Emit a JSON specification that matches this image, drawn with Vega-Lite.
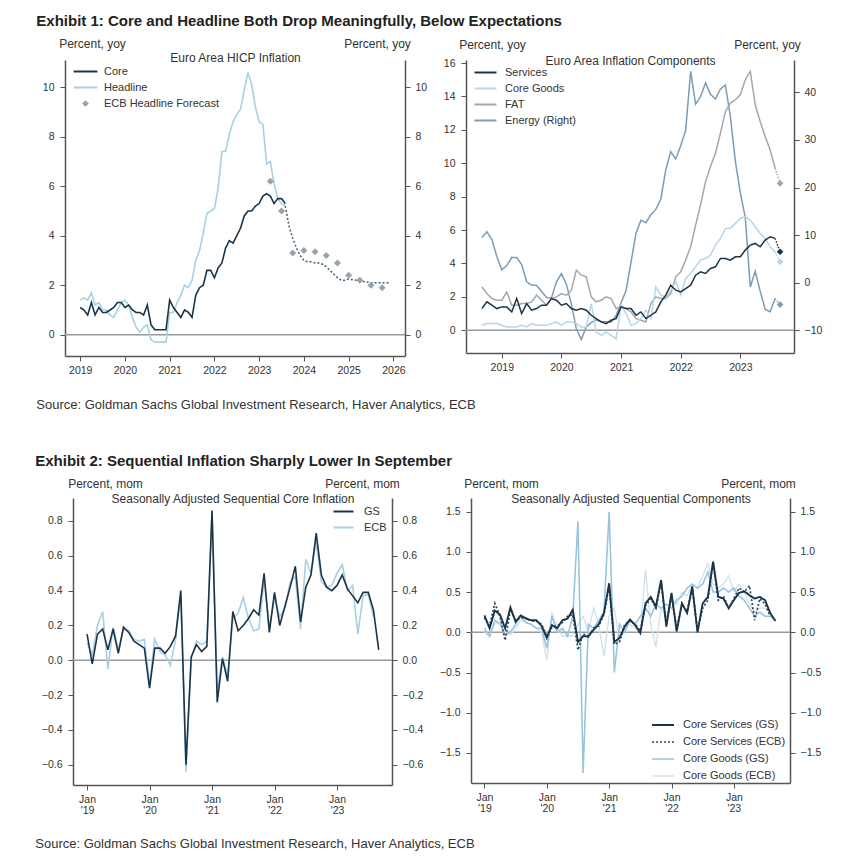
{
  "$schema": "https://vega.github.io/schema/vega-lite/v6.json",
  "padding": {"left": 35, "top": 14, "right": 5, "bottom": 5},
  "config": {
    "font": "Liberation Sans",
    "view": {"stroke": null},
    "axis": {"grid": false, "domainColor": "#555", "domainWidth": 1.5, "tickColor": "#555", "tickWidth": 1, "tickSize": 5, "labelFontSize": 10.5, "labelColor": "#333", "labelFont": "Liberation Sans", "titleFont": "Liberation Sans", "titleFontSize": 12, "titleFontWeight": "normal", "titleColor": "#333", "labelPadding": 4},
    "legend": {"labelFont": "Liberation Sans", "labelFontSize": 11, "labelColor": "#333", "padding": 0},
    "title": {"font": "Liberation Sans"}
  },
  "datasets": {
    "p1": [
      {"t":2019,"Core":1.1,"Headline":1.4},{"t":2019.083,"Core":1.0,"Headline":1.5},{"t":2019.167,"Core":0.8,"Headline":1.4},{"t":2019.25,"Core":1.3,"Headline":1.7},{"t":2019.333,"Core":0.8,"Headline":1.2},{"t":2019.417,"Core":1.1,"Headline":1.3},{"t":2019.5,"Core":0.9,"Headline":1.0},{"t":2019.583,"Core":0.9,"Headline":1.0},{"t":2019.667,"Core":1.0,"Headline":0.8},{"t":2019.75,"Core":1.1,"Headline":0.7},{"t":2019.833,"Core":1.3,"Headline":1.0},{"t":2019.917,"Core":1.3,"Headline":1.3},
      {"t":2020,"Core":1.1,"Headline":1.4},{"t":2020.083,"Core":1.2,"Headline":1.2},{"t":2020.167,"Core":1.0,"Headline":0.7},{"t":2020.25,"Core":0.9,"Headline":0.3},{"t":2020.333,"Core":0.9,"Headline":0.1},{"t":2020.417,"Core":0.8,"Headline":0.3},{"t":2020.5,"Core":1.2,"Headline":0.4},{"t":2020.583,"Core":0.4,"Headline":-0.2},{"t":2020.667,"Core":0.2,"Headline":-0.3},{"t":2020.75,"Core":0.2,"Headline":-0.3},{"t":2020.833,"Core":0.2,"Headline":-0.3},{"t":2020.917,"Core":0.2,"Headline":-0.3},
      {"t":2021,"Core":1.4,"Headline":0.9},{"t":2021.083,"Core":1.1,"Headline":0.9},{"t":2021.167,"Core":0.9,"Headline":1.3},{"t":2021.25,"Core":0.7,"Headline":1.6},{"t":2021.333,"Core":1.0,"Headline":2.0},{"t":2021.417,"Core":0.9,"Headline":1.9},{"t":2021.5,"Core":0.7,"Headline":2.2},{"t":2021.583,"Core":1.6,"Headline":3.0},{"t":2021.667,"Core":1.9,"Headline":3.4},{"t":2021.75,"Core":2.0,"Headline":4.1},{"t":2021.833,"Core":2.6,"Headline":4.9},{"t":2021.917,"Core":2.6,"Headline":5.0},
      {"t":2022,"Core":2.3,"Headline":5.1},{"t":2022.083,"Core":2.7,"Headline":5.9},{"t":2022.167,"Core":2.9,"Headline":7.4},{"t":2022.25,"Core":3.5,"Headline":7.4},{"t":2022.333,"Core":3.8,"Headline":8.1},{"t":2022.417,"Core":3.7,"Headline":8.6},{"t":2022.5,"Core":4.0,"Headline":8.9},{"t":2022.583,"Core":4.3,"Headline":9.1},{"t":2022.667,"Core":4.8,"Headline":9.9},{"t":2022.75,"Core":5.0,"Headline":10.6},{"t":2022.833,"Core":5.0,"Headline":10.1},{"t":2022.917,"Core":5.2,"Headline":9.2},
      {"t":2023,"Core":5.3,"Headline":8.6},{"t":2023.083,"Core":5.6,"Headline":8.5},{"t":2023.167,"Core":5.7,"Headline":6.9},{"t":2023.25,"Core":5.6,"Headline":7.0},{"t":2023.333,"Core":5.3,"Headline":6.1},{"t":2023.417,"Core":5.5,"Headline":5.5},{"t":2023.5,"Core":5.5,"Headline":5.3},{"t":2023.583,"Core":5.3,"Headline":5.2}
    ],
    "p1f": [
      {"t":2023.583,"Forecast":5.2},{"t":2023.667,"Forecast":4.4},{"t":2023.75,"Forecast":3.9},{"t":2023.833,"Forecast":3.5},{"t":2023.917,"Forecast":3.2},{"t":2024,"Forecast":3.0},{"t":2024.083,"Forecast":2.95},{"t":2024.167,"Forecast":2.95},{"t":2024.25,"Forecast":2.9},{"t":2024.333,"Forecast":2.9},{"t":2024.417,"Forecast":2.85},{"t":2024.5,"Forecast":2.75},{"t":2024.583,"Forecast":2.6},{"t":2024.667,"Forecast":2.45},{"t":2024.75,"Forecast":2.3},{"t":2024.833,"Forecast":2.2},{"t":2024.917,"Forecast":2.2},{"t":2025,"Forecast":2.25},{"t":2025.167,"Forecast":2.2},{"t":2025.333,"Forecast":2.15},{"t":2025.5,"Forecast":2.1},{"t":2025.667,"Forecast":2.1},{"t":2025.833,"Forecast":2.1},{"t":2025.917,"Forecast":2.1}
    ],
    "p1e": [
      {"t":2023.25,"ECB":6.2},{"t":2023.5,"ECB":5.0},{"t":2023.75,"ECB":3.3},{"t":2024,"ECB":3.4},{"t":2024.25,"ECB":3.35},{"t":2024.5,"ECB":3.2},{"t":2024.75,"ECB":2.9},{"t":2025,"ECB":2.4},{"t":2025.25,"ECB":2.2},{"t":2025.5,"ECB":2.0},{"t":2025.75,"ECB":1.9}
    ],
    "p2": [
      {"t":2018.667,"Services":1.3,"Core Goods":0.3,"FAT":2.6,"Energy":9.5},{"t":2018.75,"Services":1.7,"Core Goods":0.4,"FAT":2.2,"Energy":10.7},{"t":2018.833,"Services":1.5,"Core Goods":0.4,"FAT":1.9,"Energy":9.1},{"t":2018.917,"Services":1.3,"Core Goods":0.4,"FAT":1.8,"Energy":5.5},
      {"t":2019,"Services":1.4,"Core Goods":0.3,"FAT":1.8,"Energy":2.7},{"t":2019.083,"Services":1.4,"Core Goods":0.2,"FAT":2.3,"Energy":3.6},{"t":2019.167,"Services":1.1,"Core Goods":0.2,"FAT":1.5,"Energy":5.3},{"t":2019.25,"Services":1.9,"Core Goods":0.2,"FAT":1.5,"Energy":5.3},{"t":2019.333,"Services":1.0,"Core Goods":0.3,"FAT":1.6,"Energy":3.8},{"t":2019.417,"Services":1.6,"Core Goods":0.2,"FAT":1.6,"Energy":0.2},{"t":2019.5,"Services":1.2,"Core Goods":0.4,"FAT":1.7,"Energy":-0.5},{"t":2019.583,"Services":1.3,"Core Goods":0.3,"FAT":2.1,"Energy":-0.6},{"t":2019.667,"Services":1.5,"Core Goods":0.3,"FAT":1.8,"Energy":-1.8},{"t":2019.75,"Services":1.5,"Core Goods":0.3,"FAT":1.5,"Energy":-3.1},{"t":2019.833,"Services":1.9,"Core Goods":0.4,"FAT":1.9,"Energy":-3.2},{"t":2019.917,"Services":1.8,"Core Goods":0.5,"FAT":2.0,"Energy":0.2},
      {"t":2020,"Services":1.5,"Core Goods":0.3,"FAT":2.2,"Energy":1.9},{"t":2020.083,"Services":1.6,"Core Goods":0.5,"FAT":2.1,"Energy":-0.3},{"t":2020.167,"Services":1.3,"Core Goods":0.5,"FAT":2.4,"Energy":-4.5},{"t":2020.25,"Services":1.2,"Core Goods":0.4,"FAT":3.6,"Energy":-9.7},{"t":2020.333,"Services":1.3,"Core Goods":0.2,"FAT":3.3,"Energy":-11.9},{"t":2020.417,"Services":1.2,"Core Goods":0.2,"FAT":3.2,"Energy":-9.3},{"t":2020.5,"Services":0.9,"Core Goods":1.6,"FAT":2.0,"Energy":-8.4},{"t":2020.583,"Services":0.7,"Core Goods":-0.1,"FAT":1.7,"Energy":-7.8},{"t":2020.667,"Services":0.5,"Core Goods":-0.3,"FAT":1.8,"Energy":-8.2},{"t":2020.75,"Services":0.4,"Core Goods":-0.1,"FAT":2.0,"Energy":-8.2},{"t":2020.833,"Services":0.6,"Core Goods":-0.3,"FAT":1.9,"Energy":-8.3},{"t":2020.917,"Services":0.7,"Core Goods":-0.5,"FAT":1.3,"Energy":-6.9},
      {"t":2021,"Services":1.4,"Core Goods":1.5,"FAT":1.4,"Energy":-4.2},{"t":2021.083,"Services":1.3,"Core Goods":1.0,"FAT":1.3,"Energy":-1.7},{"t":2021.167,"Services":1.3,"Core Goods":0.3,"FAT":1.1,"Energy":4.3},{"t":2021.25,"Services":0.9,"Core Goods":0.4,"FAT":0.7,"Energy":10.4},{"t":2021.333,"Services":1.1,"Core Goods":0.7,"FAT":0.6,"Energy":13.1},{"t":2021.417,"Services":0.7,"Core Goods":1.2,"FAT":0.5,"Energy":12.6},{"t":2021.5,"Services":0.9,"Core Goods":0.7,"FAT":1.6,"Energy":14.3},{"t":2021.583,"Services":1.1,"Core Goods":2.6,"FAT":2.0,"Energy":15.4},{"t":2021.667,"Services":1.7,"Core Goods":2.1,"FAT":1.9,"Energy":17.6},{"t":2021.75,"Services":2.1,"Core Goods":2.0,"FAT":1.9,"Energy":23.7},{"t":2021.833,"Services":2.7,"Core Goods":2.4,"FAT":2.2,"Energy":27.5},{"t":2021.917,"Services":2.4,"Core Goods":2.9,"FAT":3.2,"Energy":26.0},
      {"t":2022,"Services":2.3,"Core Goods":2.1,"FAT":3.5,"Energy":28.8},{"t":2022.083,"Services":2.5,"Core Goods":3.1,"FAT":4.2,"Energy":32.0},{"t":2022.167,"Services":2.7,"Core Goods":3.4,"FAT":5.0,"Energy":44.4},{"t":2022.25,"Services":3.3,"Core Goods":3.8,"FAT":6.3,"Energy":37.5},{"t":2022.333,"Services":3.5,"Core Goods":4.2,"FAT":7.5,"Energy":39.1},{"t":2022.417,"Services":3.4,"Core Goods":4.3,"FAT":8.9,"Energy":42.0},{"t":2022.5,"Services":3.7,"Core Goods":4.5,"FAT":9.8,"Energy":39.6},{"t":2022.583,"Services":3.8,"Core Goods":5.1,"FAT":10.6,"Energy":38.6},{"t":2022.667,"Services":4.3,"Core Goods":5.5,"FAT":11.8,"Energy":40.7},{"t":2022.75,"Services":4.3,"Core Goods":6.1,"FAT":13.1,"Energy":41.5},{"t":2022.833,"Services":4.2,"Core Goods":6.1,"FAT":13.6,"Energy":34.9},{"t":2022.917,"Services":4.4,"Core Goods":6.4,"FAT":13.8,"Energy":25.5},
      {"t":2023,"Services":4.4,"Core Goods":6.7,"FAT":14.1,"Energy":18.9},{"t":2023.083,"Services":4.8,"Core Goods":6.8,"FAT":15.0,"Energy":13.7},{"t":2023.167,"Services":5.1,"Core Goods":6.6,"FAT":15.5,"Energy":-0.9},{"t":2023.25,"Services":5.2,"Core Goods":6.2,"FAT":13.5,"Energy":2.4},{"t":2023.333,"Services":5.0,"Core Goods":5.8,"FAT":12.5,"Energy":-1.8},{"t":2023.417,"Services":5.4,"Core Goods":5.5,"FAT":11.6,"Energy":-5.6},{"t":2023.5,"Services":5.6,"Core Goods":5.0,"FAT":10.8,"Energy":-6.1},{"t":2023.583,"Services":5.5,"Core Goods":4.7,"FAT":9.7,"Energy":-3.3}
    ],
    "p2s": [
      {"t":2023.583,"Services":5.5,"Core Goods":4.7,"FAT":9.7,"Energy":-3.3},
      {"t":2023.667,"Services":4.7,"Core Goods":4.1,"FAT":8.8,"Energy":-4.6}
    ],
    "p3": [
      {"t":2019,"GS":0.15,"ECB":0.10},{"t":2019.083,"GS":-0.02,"ECB":0.03},{"t":2019.167,"GS":0.15,"ECB":0.20},{"t":2019.25,"GS":0.18,"ECB":0.28},{"t":2019.333,"GS":0.06,"ECB":-0.05},{"t":2019.417,"GS":0.18,"ECB":0.19},{"t":2019.5,"GS":0.04,"ECB":0.06},{"t":2019.583,"GS":0.19,"ECB":0.18},{"t":2019.667,"GS":0.16,"ECB":0.17},{"t":2019.75,"GS":0.11,"ECB":0.12},{"t":2019.833,"GS":0.09,"ECB":0.11},{"t":2019.917,"GS":0.07,"ECB":0.12},
      {"t":2020,"GS":-0.16,"ECB":-0.14},{"t":2020.083,"GS":0.07,"ECB":0.12},{"t":2020.167,"GS":0.07,"ECB":0.05},{"t":2020.25,"GS":0.04,"ECB":0.03},{"t":2020.333,"GS":0.08,"ECB":-0.03},{"t":2020.417,"GS":0.14,"ECB":0.12},{"t":2020.5,"GS":0.40,"ECB":0.38},{"t":2020.583,"GS":-0.60,"ECB":-0.64},{"t":2020.667,"GS":0.02,"ECB":0.01},{"t":2020.75,"GS":0.09,"ECB":0.11},{"t":2020.833,"GS":0.05,"ECB":0.09},{"t":2020.917,"GS":0.08,"ECB":0.11},
      {"t":2021,"GS":0.86,"ECB":0.85},{"t":2021.083,"GS":-0.24,"ECB":-0.18},{"t":2021.167,"GS":0.01,"ECB":0.02},{"t":2021.25,"GS":-0.12,"ECB":-0.09},{"t":2021.333,"GS":0.28,"ECB":0.24},{"t":2021.417,"GS":0.17,"ECB":0.27},{"t":2021.5,"GS":0.20,"ECB":0.36},{"t":2021.583,"GS":0.24,"ECB":0.24},{"t":2021.667,"GS":0.29,"ECB":0.17},{"t":2021.75,"GS":0.26,"ECB":0.18},{"t":2021.833,"GS":0.50,"ECB":0.46},{"t":2021.917,"GS":0.16,"ECB":0.19},
      {"t":2022,"GS":0.39,"ECB":0.36},{"t":2022.083,"GS":0.20,"ECB":0.25},{"t":2022.167,"GS":0.31,"ECB":0.30},{"t":2022.25,"GS":0.42,"ECB":0.45},{"t":2022.333,"GS":0.54,"ECB":0.48},{"t":2022.417,"GS":0.22,"ECB":0.18},{"t":2022.5,"GS":0.42,"ECB":0.58},{"t":2022.583,"GS":0.49,"ECB":0.50},{"t":2022.667,"GS":0.73,"ECB":0.68},{"t":2022.75,"GS":0.49,"ECB":0.45},{"t":2022.833,"GS":0.42,"ECB":0.42},{"t":2022.917,"GS":0.40,"ECB":0.43},
      {"t":2023,"GS":0.43,"ECB":0.50},{"t":2023.083,"GS":0.49,"ECB":0.55},{"t":2023.167,"GS":0.41,"ECB":0.40},{"t":2023.25,"GS":0.37,"ECB":0.43},{"t":2023.333,"GS":0.33,"ECB":0.15},{"t":2023.417,"GS":0.39,"ECB":0.37},{"t":2023.5,"GS":0.39,"ECB":0.38},{"t":2023.583,"GS":0.29,"ECB":0.25},{"t":2023.667,"GS":0.06}
    ],
    "p4": [
      {"t":2019,"Core Services (GS)":0.21,"Core Services (ECB)":0.18,"Core Goods (GS)":0.05,"Core Goods (ECB)":0.00},
      {"t":2019.083,"Core Services (GS)":0.05,"Core Services (ECB)":0.08,"Core Goods (GS)":-0.05,"Core Goods (ECB)":-0.05},
      {"t":2019.167,"Core Services (GS)":0.27,"Core Services (ECB)":0.36,"Core Goods (GS)":0.15,"Core Goods (ECB)":0.10},
      {"t":2019.25,"Core Services (GS)":0.22,"Core Services (ECB)":0.20,"Core Goods (GS)":0.10,"Core Goods (ECB)":0.15},
      {"t":2019.333,"Core Services (GS)":0.05,"Core Services (ECB)":-0.10,"Core Goods (GS)":-0.03,"Core Goods (ECB)":0.00},
      {"t":2019.417,"Core Services (GS)":0.31,"Core Services (ECB)":0.28,"Core Goods (GS)":0.00,"Core Goods (ECB)":-0.03},
      {"t":2019.5,"Core Services (GS)":0.13,"Core Services (ECB)":0.15,"Core Goods (GS)":0.10,"Core Goods (ECB)":0.05},
      {"t":2019.583,"Core Services (GS)":0.21,"Core Services (ECB)":0.18,"Core Goods (GS)":0.20,"Core Goods (ECB)":0.15},
      {"t":2019.667,"Core Services (GS)":0.17,"Core Services (ECB)":0.18,"Core Goods (GS)":0.12,"Core Goods (ECB)":0.12},
      {"t":2019.75,"Core Services (GS)":0.15,"Core Services (ECB)":0.14,"Core Goods (GS)":0.10,"Core Goods (ECB)":0.10},
      {"t":2019.833,"Core Services (GS)":0.15,"Core Services (ECB)":0.14,"Core Goods (GS)":0.05,"Core Goods (ECB)":0.05},
      {"t":2019.917,"Core Services (GS)":0.08,"Core Services (ECB)":0.10,"Core Goods (GS)":0.05,"Core Goods (ECB)":0.00},
      {"t":2020,"Core Services (GS)":-0.07,"Core Services (ECB)":-0.05,"Core Goods (GS)":-0.20,"Core Goods (ECB)":-0.35},
      {"t":2020.083,"Core Services (GS)":0.09,"Core Services (ECB)":0.06,"Core Goods (GS)":0.20,"Core Goods (ECB)":0.25},
      {"t":2020.167,"Core Services (GS)":0.05,"Core Services (ECB)":0.08,"Core Goods (GS)":0.00,"Core Goods (ECB)":0.05},
      {"t":2020.25,"Core Services (GS)":0.15,"Core Services (ECB)":0.12,"Core Goods (GS)":0.05,"Core Goods (ECB)":-0.05},
      {"t":2020.333,"Core Services (GS)":0.17,"Core Services (ECB)":0.20,"Core Goods (GS)":-0.05,"Core Goods (ECB)":-0.05},
      {"t":2020.417,"Core Services (GS)":0.28,"Core Services (ECB)":0.22,"Core Goods (GS)":0.20,"Core Goods (ECB)":-0.05},
      {"t":2020.5,"Core Services (GS)":-0.12,"Core Services (ECB)":-0.22,"Core Goods (GS)":1.38,"Core Goods (ECB)":0.10},
      {"t":2020.583,"Core Services (GS)":-0.05,"Core Services (ECB)":-0.02,"Core Goods (GS)":-1.75,"Core Goods (ECB)":0.20},
      {"t":2020.667,"Core Services (GS)":-0.05,"Core Services (ECB)":-0.06,"Core Goods (GS)":0.10,"Core Goods (ECB)":0.00},
      {"t":2020.75,"Core Services (GS)":0.03,"Core Services (ECB)":0.05,"Core Goods (GS)":0.05,"Core Goods (ECB)":0.30},
      {"t":2020.833,"Core Services (GS)":0.10,"Core Services (ECB)":0.08,"Core Goods (GS)":0.15,"Core Goods (ECB)":0.10},
      {"t":2020.917,"Core Services (GS)":0.24,"Core Services (ECB)":0.22,"Core Goods (GS)":0.25,"Core Goods (ECB)":-0.30},
      {"t":2021,"Core Services (GS)":0.61,"Core Services (ECB)":0.58,"Core Goods (GS)":1.50,"Core Goods (ECB)":0.20},
      {"t":2021.083,"Core Services (GS)":-0.12,"Core Services (ECB)":-0.15,"Core Goods (GS)":-0.50,"Core Goods (ECB)":0.30},
      {"t":2021.167,"Core Services (GS)":-0.07,"Core Services (ECB)":-0.12,"Core Goods (GS)":0.10,"Core Goods (ECB)":-0.10},
      {"t":2021.25,"Core Services (GS)":0.07,"Core Services (ECB)":0.10,"Core Goods (GS)":0.00,"Core Goods (ECB)":0.10},
      {"t":2021.333,"Core Services (GS)":0.16,"Core Services (ECB)":0.14,"Core Goods (GS)":0.15,"Core Goods (ECB)":0.10},
      {"t":2021.417,"Core Services (GS)":0.09,"Core Services (ECB)":0.10,"Core Goods (GS)":0.10,"Core Goods (ECB)":0.05},
      {"t":2021.5,"Core Services (GS)":-0.01,"Core Services (ECB)":0.02,"Core Goods (GS)":0.20,"Core Goods (ECB)":0.00},
      {"t":2021.583,"Core Services (GS)":0.36,"Core Services (ECB)":0.33,"Core Goods (GS)":0.30,"Core Goods (ECB)":0.78},
      {"t":2021.667,"Core Services (GS)":0.44,"Core Services (ECB)":0.42,"Core Goods (GS)":0.20,"Core Goods (ECB)":0.10},
      {"t":2021.75,"Core Services (GS)":0.32,"Core Services (ECB)":0.30,"Core Goods (GS)":0.35,"Core Goods (ECB)":-0.18},
      {"t":2021.833,"Core Services (GS)":0.65,"Core Services (ECB)":0.62,"Core Goods (GS)":0.30,"Core Goods (ECB)":0.30},
      {"t":2021.917,"Core Services (GS)":0.07,"Core Services (ECB)":0.10,"Core Goods (GS)":0.35,"Core Goods (ECB)":0.20},
      {"t":2022,"Core Services (GS)":0.49,"Core Services (ECB)":0.46,"Core Goods (GS)":0.30,"Core Goods (ECB)":0.40},
      {"t":2022.083,"Core Services (GS)":0.01,"Core Services (ECB)":0.04,"Core Goods (GS)":0.40,"Core Goods (ECB)":0.35},
      {"t":2022.167,"Core Services (GS)":0.36,"Core Services (ECB)":0.35,"Core Goods (GS)":0.45,"Core Goods (ECB)":0.50},
      {"t":2022.25,"Core Services (GS)":0.24,"Core Services (ECB)":0.26,"Core Goods (GS)":0.55,"Core Goods (ECB)":0.45},
      {"t":2022.333,"Core Services (GS)":0.57,"Core Services (ECB)":0.55,"Core Goods (GS)":0.60,"Core Goods (ECB)":0.60},
      {"t":2022.417,"Core Services (GS)":0.00,"Core Services (ECB)":0.02,"Core Goods (GS)":0.55,"Core Goods (ECB)":0.55},
      {"t":2022.5,"Core Services (GS)":0.36,"Core Services (ECB)":0.30,"Core Goods (GS)":0.60,"Core Goods (ECB)":0.70},
      {"t":2022.583,"Core Services (GS)":0.44,"Core Services (ECB)":0.40,"Core Goods (GS)":0.75,"Core Goods (ECB)":0.85},
      {"t":2022.667,"Core Services (GS)":0.88,"Core Services (ECB)":0.86,"Core Goods (GS)":0.50,"Core Goods (ECB)":0.60},
      {"t":2022.75,"Core Services (GS)":0.44,"Core Services (ECB)":0.40,"Core Goods (GS)":0.50,"Core Goods (ECB)":0.55},
      {"t":2022.833,"Core Services (GS)":0.42,"Core Services (ECB)":0.45,"Core Goods (GS)":0.55,"Core Goods (ECB)":0.60},
      {"t":2022.917,"Core Services (GS)":0.30,"Core Services (ECB)":0.30,"Core Goods (GS)":0.50,"Core Goods (ECB)":0.70},
      {"t":2023,"Core Services (GS)":0.40,"Core Services (ECB)":0.42,"Core Goods (GS)":0.55,"Core Goods (ECB)":0.50},
      {"t":2023.083,"Core Services (GS)":0.49,"Core Services (ECB)":0.55,"Core Goods (GS)":0.45,"Core Goods (ECB)":0.60},
      {"t":2023.167,"Core Services (GS)":0.51,"Core Services (ECB)":0.50,"Core Goods (GS)":0.40,"Core Goods (ECB)":0.50},
      {"t":2023.25,"Core Services (GS)":0.46,"Core Services (ECB)":0.58,"Core Goods (GS)":0.30,"Core Goods (ECB)":0.35},
      {"t":2023.333,"Core Services (GS)":0.42,"Core Services (ECB)":0.15,"Core Goods (GS)":0.20,"Core Goods (ECB)":0.25},
      {"t":2023.417,"Core Services (GS)":0.44,"Core Services (ECB)":0.42,"Core Goods (GS)":0.25,"Core Goods (ECB)":0.30},
      {"t":2023.5,"Core Services (GS)":0.40,"Core Services (ECB)":0.35,"Core Goods (GS)":0.20,"Core Goods (ECB)":0.30},
      {"t":2023.583,"Core Services (GS)":0.24,"Core Services (ECB)":0.20,"Core Goods (GS)":0.20,"Core Goods (ECB)":0.25},
      {"t":2023.667,"Core Services (GS)":0.14,"Core Goods (GS)":0.15}
    ]
  },
  "resolve": {"scale": {"x": "independent", "y": "independent", "color": "independent", "strokeDash": "independent", "strokeWidth": "independent"}, "legend": {"color": "independent", "strokeDash": "independent"}},
  "columns": 1,
  "align": "none",
  "spacing": 42,
  "concat": [
    {
      "title": {"text": "Exhibit 1: Core and Headline Both Drop Meaningfully, Below Expectations", "anchor": "start", "fontSize": 15, "fontWeight": "bold", "color": "#222", "offset": 8},
      "resolve": {"scale": {"x": "independent", "y": "independent", "color": "independent", "strokeDash": "independent", "strokeWidth": "independent"}, "legend": {"color": "independent", "strokeDash": "independent"}},
      "vconcat": [
        {
          "title": {"text": "Source: Goldman Sachs Global Investment Research, Haver Analytics, ECB", "orient": "bottom", "anchor": "start", "fontSize": 13, "fontWeight": "normal", "color": "#333", "offset": 23, "dx": -6},
          "spacing": 16,
          "resolve": {"scale": {"x": "independent", "y": "independent", "color": "independent", "strokeDash": "independent", "strokeWidth": "independent"}, "legend": {"color": "independent", "strokeDash": "independent"}},
          "hconcat": [
            {
              "width": 340, "height": 296,
              "resolve": {"scale": {"x": "independent", "y": "independent"}, "axis": {"x": "independent", "y": "independent"}},
              "layer": [
                {
                  "data": {"values": [{}]},
                  "mark": {"type": "rule", "color": "#9a9a9a", "strokeWidth": 1.5},
                  "encoding": {"y": {"datum": 0, "type": "quantitative", "scale": {"domain": [-0.86, 11.1], "nice": false, "zero": false}, "axis": null}}
                },
                {
                  "data": {"name": "p1"},
                  "transform": [{"fold": ["Headline", "Core"], "as": ["series", "v"]}],
                  "mark": {"type": "line", "strokeWidth": 1.6},
                  "encoding": {
                    "x": {"field": "t", "type": "quantitative", "scale": {"domain": [2018.66, 2026.26], "nice": false, "zero": false}, "axis": {"values": [2019, 2020, 2021, 2022, 2023, 2024, 2025, 2026], "format": "d", "title": null}},
                    "y": {"field": "v", "type": "quantitative", "scale": {"domain": [-0.86, 11.1], "nice": false, "zero": false}, "axis": {"orient": "left", "values": [0, 2, 4, 6, 8, 10], "format": "d", "title": "Percent, yoy", "titleAngle": 0, "titleX": 27, "titleY": -17, "titleAlign": "center", "titleBaseline": "middle", "labelPadding": 6}},
                    "color": {"field": "series", "type": "nominal", "scale": {"domain": ["Core", "Headline", "ECB Headline Forecast"], "range": ["#1c3448", "#a9d0e3", "#9aa3a8"]},
                      "legend": {"orient": "none", "legendX": 15, "legendY": 6, "title": null, "symbolType": "stroke", "symbolStrokeWidth": 2, "rowPadding": 4, "labelOffset": 13,
                        "encode": {"symbols": {"update": {
                          "shape": {"signal": "datum.value === 'ECB Headline Forecast' ? 'diamond' : 'stroke'"},
                          "size": {"signal": "datum.value === 'ECB Headline Forecast' ? 45 : 560"},
                          "fill": {"signal": "datum.value === 'ECB Headline Forecast' ? '#9aa3a8' : 'transparent'"},
                          "strokeWidth": {"signal": "datum.value === 'ECB Headline Forecast' ? 0 : 2"}
                        }}}}}
                  }
                },
                {
                  "data": {"name": "p1f"},
                  "mark": {"type": "line", "strokeWidth": 1.5, "strokeDash": [2, 2], "color": "#3d6079"},
                  "encoding": {
                    "x": {"field": "t", "type": "quantitative", "scale": {"domain": [2018.66, 2026.26], "nice": false, "zero": false}, "axis": {"orient": "top", "title": "Euro Area HICP Inflation", "domain": false, "ticks": false, "labels": false, "titleX": 170, "titleY": -3, "titleBaseline": "middle", "titleAlign": "center"}},
                    "y": {"field": "Forecast", "type": "quantitative", "scale": {"domain": [-0.86, 11.1], "nice": false, "zero": false}, "axis": {"orient": "right", "values": [0, 2, 4, 6, 8, 10], "format": "d", "title": "Percent, yoy", "titleAngle": 0, "titleX": -28, "titleY": -17, "titleAlign": "center", "titleBaseline": "middle", "labelPadding": 5}}
                  }
                },
                {
                  "data": {"name": "p1e"},
                  "mark": {"type": "point", "shape": "diamond", "filled": true, "size": 50, "opacity": 1},
                  "encoding": {
                    "x": {"field": "t", "type": "quantitative", "scale": {"domain": [2018.66, 2026.26], "nice": false, "zero": false}, "axis": null},
                    "y": {"field": "ECB", "type": "quantitative", "scale": {"domain": [-0.86, 11.1], "nice": false, "zero": false}, "axis": null},
                    "color": {"datum": "ECB Headline Forecast"}
                  }
                }
              ]
            },
            {
              "width": 328, "height": 293,
              "resolve": {"scale": {"x": "independent", "y": "independent"}, "axis": {"x": "independent", "y": "independent"}},
              "layer": [
                {
                  "data": {"values": [{}]},
                  "mark": {"type": "rule", "color": "#9a9a9a", "strokeWidth": 1.5},
                  "encoding": {"y": {"datum": 0, "type": "quantitative", "scale": {"domain": [-1.36, 16.18], "nice": false, "zero": false}, "axis": null}}
                },
                {
                  "data": {"name": "p2"},
                  "mark": {"type": "line", "strokeWidth": 1.5},
                  "encoding": {
                    "x": {"field": "t", "type": "quantitative", "scale": {"domain": [2018.40, 2023.90], "nice": false, "zero": false}, "axis": {"orient": "top", "title": "Euro Area Inflation Components", "domain": false, "ticks": false, "labels": false, "titleX": 164, "titleY": 0, "titleBaseline": "middle", "titleAlign": "center"}},
                    "y": {"field": "Energy", "type": "quantitative", "scale": {"domain": [-14.77, 46.8], "nice": false, "zero": false}, "axis": {"orient": "right", "values": [-10, 0, 10, 20, 30, 40], "format": "d", "title": "Percent, yoy", "titleAngle": 0, "titleX": -27, "titleY": -16, "titleAlign": "center", "titleBaseline": "middle", "labelPadding": 5}},
                    "color": {"datum": "Energy (Right)"}
                  }
                },
                {
                  "data": {"name": "p2"},
                  "transform": [{"fold": ["FAT", "Core Goods", "Services"], "as": ["series", "v"]}],
                  "mark": {"type": "line", "strokeWidth": 1.5},
                  "encoding": {
                    "x": {"field": "t", "type": "quantitative", "scale": {"domain": [2018.40, 2023.90], "nice": false, "zero": false}, "axis": {"values": [2019, 2020, 2021, 2022, 2023], "format": "d", "title": null}},
                    "y": {"field": "v", "type": "quantitative", "scale": {"domain": [-1.36, 16.18], "nice": false, "zero": false}, "axis": {"orient": "left", "values": [0, 2, 4, 6, 8, 10, 12, 14, 16], "format": "d", "title": "Percent, yoy", "titleAngle": 0, "titleX": 26, "titleY": -16, "titleAlign": "center", "titleBaseline": "middle", "labelPadding": 6}},
                    "color": {"field": "series", "type": "nominal", "scale": {"domain": ["Services", "Core Goods", "FAT", "Energy (Right)"], "range": ["#1c3448", "#b9d6e6", "#a3a7ab", "#7d9cb6"]},
                      "legend": {"orient": "none", "legendX": 14, "legendY": 7, "title": null, "symbolType": "stroke", "symbolStrokeWidth": 2, "rowPadding": 4, "labelOffset": 14,
                        "encode": {"symbols": {"update": {"size": {"signal": "datum.value != null ? 484 : 484"}, "strokeWidth": {"signal": "datum.value != null ? 2 : 2"}}}}}}
                  }
                },
                {
                  "data": {"name": "p2s"},
                  "mark": {"type": "line", "strokeWidth": 1.5, "strokeDash": [1.5, 1.5]},
                  "encoding": {
                    "x": {"field": "t", "type": "quantitative", "scale": {"domain": [2018.40, 2023.90], "nice": false, "zero": false}, "axis": null},
                    "y": {"field": "Energy", "type": "quantitative", "scale": {"domain": [-14.77, 46.8], "nice": false, "zero": false}, "axis": null},
                    "color": {"datum": "Energy (Right)"}
                  }
                },
                {
                  "data": {"name": "p2s"},
                  "transform": [{"fold": ["FAT", "Core Goods", "Services"], "as": ["series", "v"]}],
                  "mark": {"type": "line", "strokeWidth": 1.5, "strokeDash": [1.5, 1.5]},
                  "encoding": {
                    "x": {"field": "t", "type": "quantitative", "scale": {"domain": [2018.40, 2023.90], "nice": false, "zero": false}, "axis": null},
                    "y": {"field": "v", "type": "quantitative", "scale": {"domain": [-1.36, 16.18], "nice": false, "zero": false}, "axis": null},
                    "color": {"field": "series", "type": "nominal"}
                  }
                },
                {
                  "data": {"name": "p2s"},
                  "transform": [{"filter": "datum.t > 2023.6"}],
                  "mark": {"type": "point", "shape": "diamond", "filled": true, "size": 45, "opacity": 1},
                  "encoding": {
                    "x": {"field": "t", "type": "quantitative", "scale": {"domain": [2018.40, 2023.90], "nice": false, "zero": false}, "axis": null},
                    "y": {"field": "Energy", "type": "quantitative", "scale": {"domain": [-14.77, 46.8], "nice": false, "zero": false}, "axis": null},
                    "color": {"datum": "Energy (Right)"}
                  }
                },
                {
                  "data": {"name": "p2s"},
                  "transform": [{"filter": "datum.t > 2023.6"}, {"fold": ["FAT", "Core Goods", "Services"], "as": ["series", "v"]}],
                  "mark": {"type": "point", "shape": "diamond", "filled": true, "size": 45, "opacity": 1},
                  "encoding": {
                    "x": {"field": "t", "type": "quantitative", "scale": {"domain": [2018.40, 2023.90], "nice": false, "zero": false}, "axis": null},
                    "y": {"field": "v", "type": "quantitative", "scale": {"domain": [-1.36, 16.18], "nice": false, "zero": false}, "axis": null},
                    "color": {"field": "series", "type": "nominal"}
                  }
                }
              ]
            }
          ]
        }
      ]
    },
    {
      "title": {"text": "Exhibit 2: Sequential Inflation Sharply Lower In September", "anchor": "start", "fontSize": 15, "fontWeight": "bold", "color": "#222", "offset": 8},
      "resolve": {"scale": {"x": "independent", "y": "independent", "color": "independent", "strokeDash": "independent", "strokeWidth": "independent"}, "legend": {"color": "independent", "strokeDash": "independent"}},
      "vconcat": [
        {
          "title": {"text": "Source: Goldman Sachs Global Investment Research, Haver Analytics, ECB", "orient": "bottom", "anchor": "start", "fontSize": 13, "fontWeight": "normal", "color": "#333", "offset": 22, "dx": -6},
          "spacing": 16,
          "resolve": {"scale": {"x": "independent", "y": "independent", "color": "independent", "strokeDash": "independent", "strokeWidth": "independent"}, "legend": {"color": "independent", "strokeDash": "independent"}},
          "hconcat": [
            {
              "width": 327, "height": 287,
              "resolve": {"scale": {"x": "independent", "y": "independent"}, "axis": {"x": "independent", "y": "independent"}},
              "layer": [
                {
                  "data": {"values": [{}]},
                  "mark": {"type": "rule", "color": "#9a9a9a", "strokeWidth": 1.5},
                  "encoding": {
                    "x": {"datum": 2018.775, "type": "quantitative", "scale": {"domain": [2018.775, 2023.88], "range": [8, 327], "nice": false, "zero": false}, "axis": null},
                    "x2": {"datum": 2023.88},
                    "y": {"datum": 0, "type": "quantitative", "scale": {"domain": [-0.716, 0.932], "nice": false, "zero": false}, "axis": null}
                  }
                },
                {
                  "data": {"name": "p3"},
                  "transform": [{"fold": ["ECB", "GS"], "as": ["series", "v"]}],
                  "mark": {"type": "line", "strokeWidth": 1.6},
                  "encoding": {
                    "x": {"field": "t", "type": "quantitative", "scale": {"domain": [2018.775, 2023.88], "range": [8, 327], "nice": false, "zero": false}, "axis": {"values": [2019, 2020, 2021, 2022, 2023], "labelExpr": "['Jan', \"'\" + (datum.value - 2000)]", "labelLineHeight": 11, "title": null}},
                    "y": {"field": "v", "type": "quantitative", "scale": {"domain": [-0.716, 0.932], "nice": false, "zero": false}, "axis": {"orient": "left", "offset": -8, "values": [-0.6, -0.4, -0.2, 0, 0.2, 0.4, 0.6, 0.8], "format": ".1f", "title": "Percent, mom", "titleAngle": 0, "titleX": 32, "titleY": -15, "titleAlign": "center", "titleBaseline": "middle", "labelPadding": 6}},
                    "color": {"field": "series", "type": "nominal", "scale": {"domain": ["GS", "ECB"], "range": ["#1c3448", "#a9cfe3"]},
                      "legend": {"orient": "none", "legendX": 273, "legendY": 8, "title": null, "symbolType": "stroke", "symbolStrokeWidth": 2, "rowPadding": 4, "labelOffset": 15,
                        "encode": {"symbols": {"update": {"size": {"signal": "datum.value != null ? 400 : 400"}, "strokeWidth": {"signal": "datum.value != null ? 2 : 2"}}}}}}
                  }
                },
                {
                  "data": {"name": "p3"},
                  "mark": {"type": "line", "strokeOpacity": 0},
                  "encoding": {
                    "x": {"field": "t", "type": "quantitative", "scale": {"domain": [2018.775, 2023.88], "range": [8, 327], "nice": false, "zero": false}, "axis": {"orient": "top", "title": "Seasonally Adjusted Sequential Core Inflation", "domain": false, "ticks": false, "labels": false, "titleX": 167.5, "titleY": 0, "titleBaseline": "middle", "titleAlign": "center"}},
                    "y": {"field": "GS", "type": "quantitative", "scale": {"domain": [-0.716, 0.932], "nice": false, "zero": false}, "axis": {"orient": "right", "values": [-0.6, -0.4, -0.2, 0, 0.2, 0.4, 0.6, 0.8], "format": ".1f", "title": "Percent, mom", "titleAngle": 0, "titleX": -30, "titleY": -15, "titleAlign": "center", "titleBaseline": "middle", "labelPadding": 5}}
                  }
                }
              ]
            },
            {
              "width": 319, "height": 285,
              "resolve": {"scale": {"x": "independent", "y": "independent"}, "axis": {"x": "independent", "y": "independent"}},
              "layer": [
                {
                  "data": {"values": [{}]},
                  "mark": {"type": "rule", "color": "#9a9a9a", "strokeWidth": 1.5},
                  "encoding": {"y": {"datum": 0, "type": "quantitative", "scale": {"domain": [-1.874, 1.67], "nice": false, "zero": false}, "axis": null}}
                },
                {
                  "data": {"name": "p4"},
                  "transform": [{"fold": ["Core Goods (ECB)", "Core Goods (GS)", "Core Services (ECB)", "Core Services (GS)"], "as": ["series", "v"]}],
                  "mark": {"type": "line"},
                  "encoding": {
                    "x": {"field": "t", "type": "quantitative", "scale": {"domain": [2018.785, 2023.9], "nice": false, "zero": false}, "axis": {"values": [2019, 2020, 2021, 2022, 2023], "labelExpr": "['Jan', \"'\" + (datum.value - 2000)]", "labelLineHeight": 11, "title": null}},
                    "y": {"field": "v", "type": "quantitative", "scale": {"domain": [-1.874, 1.67], "nice": false, "zero": false}, "axis": {"orient": "left", "values": [-1.5, -1, -0.5, 0, 0.5, 1, 1.5], "format": ".1f", "title": "Percent, mom", "titleAngle": 0, "titleX": 30, "titleY": -15, "titleAlign": "center", "titleBaseline": "middle", "labelPadding": 6}},
                    "color": {"field": "series", "type": "nominal", "scale": {"domain": ["Core Services (GS)", "Core Services (ECB)", "Core Goods (GS)", "Core Goods (ECB)"], "range": ["#1c3448", "#2c4b63", "#98c4de", "#d3e2ea"]},
                      "legend": {"orient": "none", "legendX": 180, "legendY": 215, "title": null, "symbolType": "stroke", "symbolStrokeWidth": 2, "rowPadding": -4, "labelOffset": 8,
                        "encode": {"symbols": {"update": {
                          "size": {"signal": "datum.value != null ? 484 : 484"},
                          "strokeWidth": {"signal": "datum.value != null ? 2 : 2"},
                          "strokeDash": {"signal": "datum.value === 'Core Services (ECB)' ? [2, 2] : [1, 0]"}
                        }}}}},
                    "strokeDash": {"field": "series", "type": "nominal", "scale": {"domain": ["Core Services (GS)", "Core Services (ECB)", "Core Goods (GS)", "Core Goods (ECB)"], "range": [[1, 0], [2, 2], [1, 0], [1, 0]]}, "legend": null},
                    "strokeWidth": {"field": "series", "type": "nominal", "scale": {"domain": ["Core Services (GS)", "Core Services (ECB)", "Core Goods (GS)", "Core Goods (ECB)"], "range": [1.9, 1.4, 1.4, 1.3]}, "legend": null}
                  }
                },
                {
                  "data": {"name": "p4"},
                  "mark": {"type": "line", "strokeOpacity": 0},
                  "encoding": {
                    "x": {"field": "t", "type": "quantitative", "scale": {"domain": [2018.785, 2023.9], "nice": false, "zero": false}, "axis": {"orient": "top", "title": "Seasonally Adjusted Sequential Components", "domain": false, "ticks": false, "labels": false, "titleX": 159.5, "titleY": 0, "titleBaseline": "middle", "titleAlign": "center"}},
                    "y": {"field": "Core Services (GS)", "type": "quantitative", "scale": {"domain": [-1.874, 1.67], "nice": false, "zero": false}, "axis": {"orient": "right", "values": [-1.5, -1, -0.5, 0, 0.5, 1, 1.5], "format": ".1f", "title": "Percent, mom", "titleAngle": 0, "titleX": -32, "titleY": -15, "titleAlign": "center", "titleBaseline": "middle", "labelPadding": 5}}
                  }
                }
              ]
            }
          ]
        }
      ]
    }
  ]
}
